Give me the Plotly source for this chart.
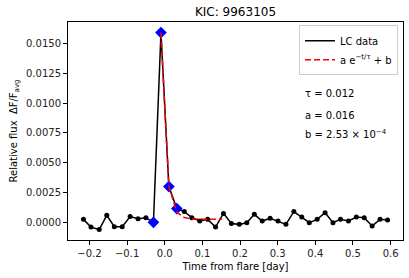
import plotly.graph_objects as go

# Data
time = [-0.216, -0.196, -0.174, -0.154, -0.134, -0.113, -0.092, -0.071, -0.050, -0.030,
        -0.010, 0.011, 0.032, 0.052, 0.072, 0.093, 0.114, 0.135, 0.156, 0.177,
        0.198, 0.218, 0.238, 0.259, 0.280, 0.301, 0.322, 0.343, 0.364, 0.384,
        0.405, 0.426, 0.447, 0.467, 0.488, 0.509, 0.530, 0.551, 0.572, 0.592]
flux = [0.00025, -0.0004, -0.0006, 0.00059, -0.00036, -0.00036, 0.00048, 0.00031, 0.00039, 0.0000,
        0.0159, 0.0030, 0.00115, 0.0009, 0.00039, 0.00011, 0.00025, -0.0004, 0.00075, -0.0001,
        -0.00017, -0.00003, 0.00067, 0.00011, 0.00034, 0.00011, -0.00017, 0.0009, 0.00045, -0.00003,
        0.00025, 0.00081, -0.00003, 0.00025, 0.00011, 0.00045, 0.00039, -0.00031, 0.00025, 0.00019]

flare_time = [-0.030, -0.010, 0.011, 0.032]
flare_flux = [0.0000, 0.0159, 0.0030, 0.00115]

fit_time = [-0.010, 0.011, 0.032, 0.052, 0.072, 0.093, 0.114, 0.135, 0.152]
fit_flux = [0.0159, 0.0030, 0.00085, 0.00040, 0.00029, 0.00026, 0.00025, 0.00025, 0.00025]

x_ticks = [-0.2, -0.1, 0.0, 0.1, 0.2, 0.3, 0.4, 0.5, 0.6]
y_ticks = [0.0, 0.0025, 0.005, 0.0075, 0.01, 0.0125, 0.015]

param_text = ["τ = 0.012", "a = 0.016", "b = 2.53 × 10<sup>−4</sup>"]

FONT = "DejaVu Sans"

fig = go.Figure()
fig.add_trace(go.Scatter(x=time, y=flux, mode="lines", name="LC data",
                         line=dict(color="black", width=1.5)))
fig.add_trace(go.Scatter(x=time, y=flux, mode="markers", showlegend=False,
                         marker=dict(color="black", size=5)))
fig.add_trace(go.Scatter(x=flare_time, y=flare_flux, mode="markers", showlegend=False,
                         marker=dict(color="#0000ff", symbol="diamond", size=9)))
fig.add_trace(go.Scatter(x=fit_time, y=fit_flux, mode="lines", name="a e<sup>−t/τ</sup> + b",
                         line=dict(color="red", width=1.5, dash="6px,3px")))

for i, txt in enumerate(param_text):
    fig.add_annotation(x=0.7015, y=[0.674, 0.573, 0.486][i], xref="paper", yref="paper",
                       text=txt, showarrow=False, xanchor="left", yanchor="middle",
                       font=dict(family=FONT, size=10, color="black"))

axis_common = dict(showline=True, linecolor="black", linewidth=1, mirror=True,
                   ticks="outside", ticklen=4, tickcolor="black", showgrid=False,
                   zeroline=False, tickfont=dict(family=FONT, size=10, color="#222"))

fig.update_layout(
    width=409, height=278,
    margin=dict(l=68, r=6, t=22, b=38),
    paper_bgcolor="white", plot_bgcolor="white",
    font=dict(family=FONT, size=10, color="black"),
    title=dict(text="KIC: 9963105", x=0.5, xref="paper", y=1 - 12 / 278, yref="container",
               xanchor="center", yanchor="middle", font=dict(family=FONT, size=12, color="black")),
    xaxis=dict(range=[-0.257, 0.633], tickvals=x_ticks, tickformat=".1f",
               title=dict(text="Time from flare [day]", standoff=4,
                          font=dict(family=FONT, size=10, color="black")),
               **axis_common),
    yaxis=dict(range=[-0.00148, 0.01679], tickvals=y_ticks, tickformat=".4f",
               title=dict(text="Relative flux  ΔF/F<sub>avg</sub>", standoff=6,
                          font=dict(family=FONT, size=10, color="black")),
               **axis_common),
    legend=dict(x=0.985, y=0.985, xanchor="right", yanchor="top",
                bordercolor="#cccccc", borderwidth=1, bgcolor="white",
                font=dict(family=FONT, size=10, color="black"),
                tracegroupgap=0),
)

fig.write_html("out.html", config={"displayModeBar": False},
               post_script="document.body.style.margin='0';document.body.style.padding='0';")
